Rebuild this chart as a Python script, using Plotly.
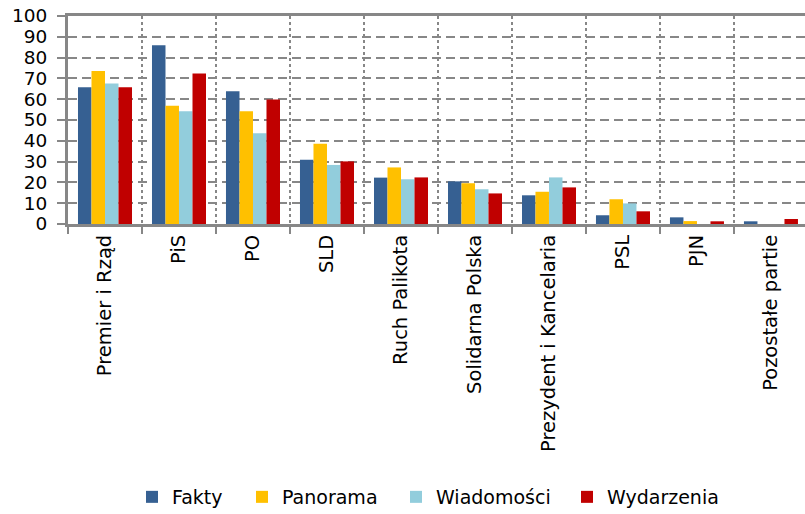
import plotly.graph_objects as go

# categories on the x axis
kategorie = ["Premier i Rząd", "PiS", "PO", "SLD", "Ruch Palikota", "Solidarna Polska",
             "Prezydent i Kancelaria", "PSL", "PJN", "Pozostałe partie"]

# values, one list per station
fakty = [65.7, 85.9, 63.8, 30.9, 22.3, 20.5, 13.8, 4.2, 3.2, 1.3]
panorama = [73.5, 56.9, 54.2, 38.6, 27.2, 19.6, 15.5, 11.9, 1.4, 0]
wiadomosci = [67.6, 54.2, 43.6, 28.4, 21.5, 16.7, 22.4, 9.9, 0, 0]
wydarzenia = [65.7, 72.4, 59.9, 30.1, 22.4, 14.7, 17.6, 6.1, 1.3, 2.4]

y_ticks = list(range(0, 101, 10))

serie = [("Fakty", fakty, "#366092"),
         ("Panorama", panorama, "#FFC000"),
         ("Wiadomości", wiadomosci, "#92CDDC"),
         ("Wydarzenia", wydarzenia, "#C00000")]

# each series gets its own legend box so the spacing matches the original
legend_px = [153, 263, 417, 588]
plot_left, plot_w = 68, 737

fig = go.Figure()
layout_legends = {}
for i, (nazwa, wartosci, kolor) in enumerate(serie):
    key = "legend" if i == 0 else "legend%d" % (i + 1)
    fig.add_trace(go.Bar(x=kategorie, y=wartosci, name=nazwa, legend=key,
                         marker=dict(color=kolor, line=dict(width=0))))
    layout_legends[key] = dict(
        orientation="h", x=(legend_px[i] - 21 - plot_left) / plot_w, xanchor="left",
        y=-1.3125, yanchor="middle", font=dict(size=19), itemwidth=30,
        bgcolor="rgba(0,0,0,0)",
    )

grey = "#878787"
fig.update_layout(
    width=805, height=514,
    margin=dict(l=68, r=0, t=16, b=290, autoexpand=False),
    paper_bgcolor="white", plot_bgcolor="white",
    font=dict(family="DejaVu Sans", size=18, color="black"),
    barmode="group", bargap=0.27, bargroupgap=0,
    showlegend=True,
    **layout_legends,
)
fig.update_xaxes(
    range=[-0.5, 9.46], tickson="boundaries",
    showgrid=True, gridcolor=grey, gridwidth=2, griddash="dot",
    showline=True, linecolor=grey, linewidth=3, mirror=True,
    ticks="outside", ticklen=7, tickwidth=2, tickcolor=grey,
    tickangle=-90, tickfont=dict(size=19.5),
)
fig.update_yaxes(
    range=[0, 100], tickvals=y_ticks,
    showgrid=True, gridcolor=grey, gridwidth=2, griddash="9px,5px",
    showline=True, linecolor=grey, linewidth=3,
    ticks="outside", ticklen=8, tickwidth=2, tickcolor=grey,
    ticklabelstandoff=6, tickfont=dict(size=18.5),
    zeroline=False,
)

fig.write_html("out.html", config={"displayModeBar": False},
               post_script="document.body.style.margin='0';")
